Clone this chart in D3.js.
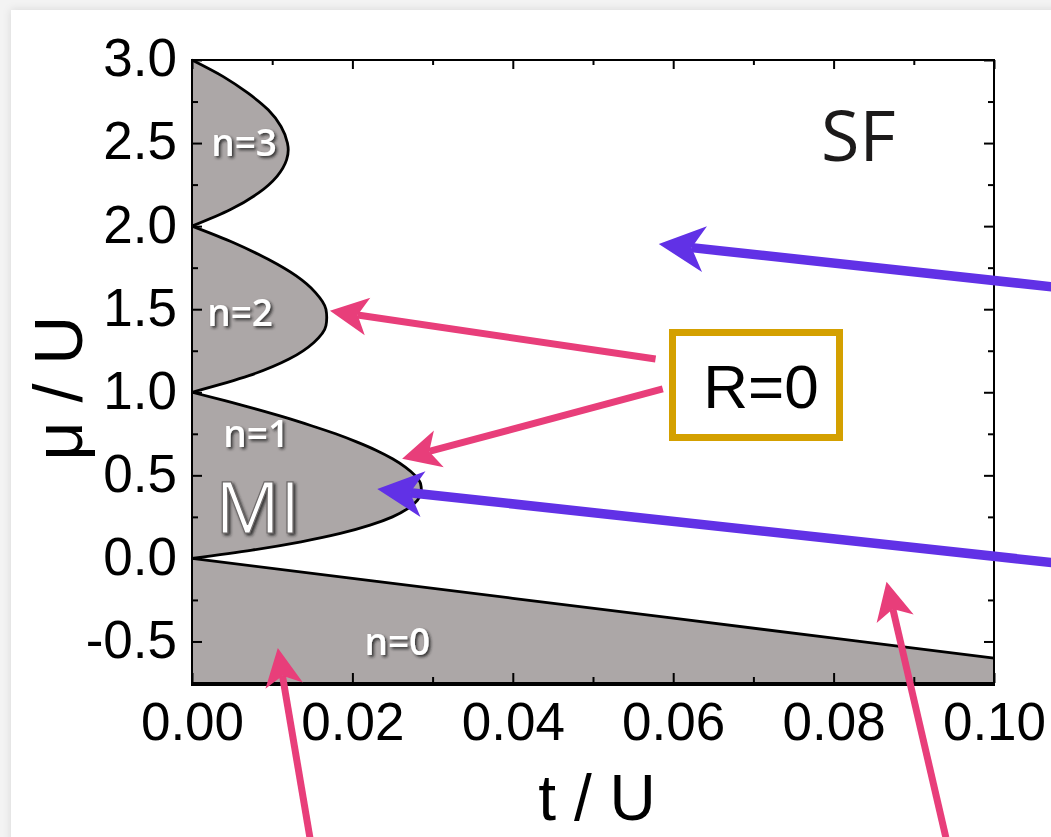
<!DOCTYPE html>
<html>
<head>
<meta charset="utf-8">
<script src="https://cdn.jsdelivr.net/npm/d3@7"></script>
<style>
  html, body { margin: 0; padding: 0; background: #f3f3f3; }
  svg { display: block; }
</style>
</head>
<body>
<div id="chart"></div>
<script>
// Mott lobe boundaries (mu/U vs t/U)
var lobe1Mu = [0, 0.05, 0.1, 0.15, 0.2, 0.25, 0.3, 0.35, 0.41, 0.45, 0.5, 0.55, 0.6, 0.65, 0.7, 0.75, 0.8, 0.85, 0.9, 0.95, 1.0];
var lobe1T  = [0, 0.0075, 0.0136, 0.0185, 0.0222, 0.0250, 0.0269, 0.0281, 0.0286, 0.0285, 0.0278, 0.0266, 0.0250, 0.0230, 0.0206, 0.0179, 0.0148, 0.0115, 0.0079, 0.0041, 0];
var lobe2Mu = [1.0, 1.1, 1.2, 1.3, 1.4, 1.45, 1.5, 1.6, 1.7, 1.8, 1.9, 2.0];
var lobe2T  = [0, 0.0071, 0.0121, 0.0152, 0.0167, 0.0168, 0.0167, 0.0154, 0.0130, 0.0095, 0.0052, 0];
var lobe3Mu = [2.0, 2.1, 2.2, 2.3, 2.4, 2.46, 2.5, 2.6, 2.7, 2.8, 2.9, 3.0];
var lobe3T  = [0, 0.0048, 0.0083, 0.0106, 0.0118, 0.0120, 0.0119, 0.0111, 0.0095, 0.0070, 0.0039, 0];

// n=0 (vacuum) boundary
var zeroT  = [0, 0.02, 0.04, 0.06, 0.08, 0.10];
var zeroMu = [0, -0.12, -0.24, -0.36, -0.48, -0.60];

// Axes
var xTicks = [0, 0.02, 0.04, 0.06, 0.08, 0.10];
var xTickLabels = ["0.00", "0.02", "0.04", "0.06", "0.08", "0.10"];
var xMinor = [0.01, 0.03, 0.05, 0.07, 0.09];
var yTicks = [-0.5, 0, 0.5, 1.0, 1.5, 2.0, 2.5, 3.0];
var yTickLabels = ["-0.5", "0.0", "0.5", "1.0", "1.5", "2.0", "2.5", "3.0"];
var yMinor = [-0.75, -0.25, 0.25, 0.75, 1.25, 1.75, 2.25, 2.75];

// Region labels [t, mu, text]
var lobeLabels = [
    [0.0065, 2.5, "n=3"],
    [0.006, 1.48, "n=2"],
    [0.008, 0.75, "n=1"],
    [0.0256, -0.5, "n=0"]
];

// Arrows in data units: [t0, mu0, t1 (tip), mu1 (tip)]
var pinkArrows = [
    [0.0578, 1.20, 0.0172, 1.49],
    [0.0587, 1.02, 0.0262, 0.60],
    [0.0147, -1.68, 0.0107, -0.54],
    [0.0940, -1.68, 0.0866, -0.14]
];
var blueArrows = [
    [0.1072, 1.635, 0.0582, 1.892],
    [0.1072, -0.025, 0.0231, 0.417]
];

function init() {
    var W = 1051, H = 837;
    var left = 192, right = 994, top = 60, bottom = 683;

    var svg = d3.select("#chart").append("svg")
        .attr("width", W)
        .attr("height", H);

    var defs = svg.append("defs");
    var sh = defs.append("filter").attr("id", "shadow")
        .attr("x", "-20%").attr("y", "-20%").attr("width", "140%").attr("height", "140%");
    sh.append("feDropShadow")
        .attr("dx", 2).attr("dy", 2).attr("stdDeviation", 1.6)
        .attr("flood-color", "#222").attr("flood-opacity", 0.85);
    var card = defs.append("filter").attr("id", "card")
        .attr("x", "-5%").attr("y", "-5%").attr("width", "110%").attr("height", "110%");
    card.append("feDropShadow")
        .attr("dx", 0).attr("dy", 0).attr("stdDeviation", 4)
        .attr("flood-color", "#000").attr("flood-opacity", 0.12);

    // white card on light grey page
    svg.append("rect")
        .attr("x", 11).attr("y", 10)
        .attr("width", W + 20).attr("height", H + 20)
        .attr("fill", "#fff")
        .attr("filter", "url(#card)");

    var x = d3.scaleLinear().domain([0, 0.10]).range([left, right]);
    var y = d3.scaleLinear().domain([-0.75, 3.0]).range([bottom, top]);

    var fillGrey = "#aca7a7";

    // n=0 region
    var zeroPts = zeroT.map(function(t, i) { return [t, zeroMu[i]]; });
    var zeroArea = zeroPts.concat([[0.10, -0.75], [0, -0.75]]);
    svg.append("path")
        .attr("d", d3.line().x(function(d) { return x(d[0]); }).y(function(d) { return y(d[1]); })(zeroArea) + "Z")
        .attr("fill", fillGrey);
    svg.append("path")
        .attr("d", d3.line().x(function(d) { return x(d[0]); }).y(function(d) { return y(d[1]); })(zeroPts))
        .attr("fill", "none")
        .attr("stroke", "#000")
        .attr("stroke-width", 2.8);

    // Mott lobes
    var lobeLine = d3.line()
        .x(function(d) { return x(d[0]); })
        .y(function(d) { return y(d[1]); })
        .curve(d3.curveMonotoneY);

    [[lobe1T, lobe1Mu], [lobe2T, lobe2Mu], [lobe3T, lobe3Mu]].forEach(function(l) {
        var pts = l[0].map(function(t, i) { return [t, l[1][i]]; });
        svg.append("path")
            .attr("d", lobeLine(pts) + "Z")
            .attr("fill", fillGrey)
            .attr("stroke", "none");
        svg.append("path")
            .attr("d", lobeLine(pts))
            .attr("fill", "none")
            .attr("stroke", "#000")
            .attr("stroke-width", 2.8);
    });

    // Axes with inward ticks
    var xAxis = d3.axisBottom(x)
        .tickValues(xTicks)
        .tickSize(-10)
        .tickPadding(19)
        .tickFormat(function(d, i) { return xTickLabels[i]; });
    var gx = svg.append("g")
        .attr("transform", "translate(0," + bottom + ")")
        .call(xAxis);

    var yAxis = d3.axisLeft(y)
        .tickValues(yTicks)
        .tickSize(-10)
        .tickPadding(15)
        .tickFormat(function(d, i) { return yTickLabels[i]; });
    var gy = svg.append("g")
        .attr("transform", "translate(" + left + ",0)")
        .call(yAxis);

    [gx, gy].forEach(function(g) {
        g.select(".domain").remove();
        g.selectAll("line").attr("stroke", "#000").attr("stroke-width", 2);
        g.selectAll("text")
            .attr("fill", "#000")
            .style("font-family", "'Liberation Sans', Arial, sans-serif")
            .style("font-size", "53px");
    });
    gy.selectAll("text").attr("dy", "0.3em");

    // minor ticks and mirrored ticks on top / right
    svg.append("g").attr("transform", "translate(0," + bottom + ")")
        .call(d3.axisBottom(x).tickValues(xMinor).tickSize(-6).tickFormat(""));
    svg.append("g").attr("transform", "translate(0," + top + ")")
        .call(d3.axisTop(x).tickValues(xMinor).tickSize(-5).tickFormat(""));
    svg.append("g").attr("transform", "translate(0," + top + ")")
        .call(d3.axisTop(x).tickValues(xTicks).tickSize(-9).tickFormat(""));
    svg.append("g").attr("transform", "translate(" + left + ",0)")
        .call(d3.axisLeft(y).tickValues(yMinor).tickSize(-6).tickFormat(""));
    svg.append("g").attr("transform", "translate(" + right + ",0)")
        .call(d3.axisRight(y).tickValues(yMinor).tickSize(-6).tickFormat(""));
    svg.append("g").attr("transform", "translate(" + right + ",0)")
        .call(d3.axisRight(y).tickValues(yTicks).tickSize(-10).tickFormat(""));
    svg.selectAll("g .domain").remove();
    svg.selectAll("g.tick line").attr("stroke", "#000").attr("stroke-width", 2);

    // frame
    svg.append("path")
        .attr("d", "M" + left + "," + bottom + "V" + top + "H" + right + "V" + bottom)
        .attr("fill", "none").attr("stroke", "#000").attr("stroke-width", 2);
    svg.append("line")
        .attr("x1", left - 1).attr("x2", right + 1)
        .attr("y1", bottom + 1).attr("y2", bottom + 1)
        .attr("stroke", "#000").attr("stroke-width", 4);

    // axis titles
    svg.append("text")
        .attr("x", 597).attr("y", 820)
        .attr("text-anchor", "middle")
        .style("font-family", "'Liberation Sans', Arial, sans-serif")
        .style("font-size", "64px")
        .text("t / U");
    svg.append("text")
        .attr("transform", "translate(82,388) rotate(-90)")
        .attr("text-anchor", "middle")
        .style("font-family", "'Liberation Sans', Arial, sans-serif")
        .style("font-size", "68px")
        .text("\u03bc / U");

    // lobe labels
    svg.selectAll(".lobe-label")
        .data(lobeLabels)
        .enter()
        .append("text")
        .attr("class", "lobe-label")
        .attr("x", function(d) { return x(d[0]); })
        .attr("y", function(d) { return y(d[1]); })
        .attr("dy", "0.36em")
        .attr("text-anchor", "middle")
        .attr("fill", "#fff")
        .attr("filter", "url(#shadow)")
        .style("font-family", "'Open Sans', 'Noto Sans', sans-serif")
        .style("font-weight", "600")
        .style("font-size", "37px")
        .text(function(d) { return d[2]; });

    svg.append("text")
        .attr("x", x(0.0082)).attr("y", y(0.155))
        .attr("text-anchor", "middle")
        .attr("fill", "#fff")
        .attr("stroke", "#6e6a6a")
        .attr("stroke-width", 1.2)
        .attr("filter", "url(#shadow)")
        .style("font-family", "'Open Sans', 'Noto Sans', sans-serif")
        .style("font-weight", "400")
        .style("font-size", "72px")
        .text("MI");

    svg.append("text")
        .attr("x", 821).attr("y", 161)
        .attr("fill", "#1c1a1a")
        .style("font-family", "'Open Sans', 'Noto Sans', sans-serif")
        .style("font-size", "70px")
        .text("SF");

    // R=0 box
    svg.append("rect")
        .attr("x", 672.5).attr("y", 332.5)
        .attr("width", 167).attr("height", 105)
        .attr("fill", "#fff")
        .attr("stroke", "#d4a000")
        .attr("stroke-width", 7);
    svg.append("text")
        .attr("x", 761).attr("y", 408)
        .attr("text-anchor", "middle")
        .attr("fill", "#000")
        .style("font-family", "'Liberation Sans', Arial, sans-serif")
        .style("font-size", "62px")
        .text("R=0");

    // arrows
    function arrow(a, color, lw, L, Wd, N) {
        var x0 = x(a[0]), y0 = y(a[1]), x1 = x(a[2]), y1 = y(a[3]);
        var dx = x1 - x0, dy = y1 - y0, len = Math.sqrt(dx * dx + dy * dy);
        var ux = dx / len, uy = dy / len, nx = -uy, ny = ux;
        svg.append("line")
            .attr("x1", x0).attr("y1", y0)
            .attr("x2", x1 - ux * N).attr("y2", y1 - uy * N)
            .attr("stroke", color).attr("stroke-width", lw);
        var head = [
            [x1, y1],
            [x1 - ux * L + nx * Wd, y1 - uy * L + ny * Wd],
            [x1 - ux * N, y1 - uy * N],
            [x1 - ux * L - nx * Wd, y1 - uy * L - ny * Wd]
        ];
        svg.append("path")
            .attr("d", "M" + head.map(function(p) { return p[0] + "," + p[1]; }).join("L") + "Z")
            .attr("fill", color);
    }
    pinkArrows.forEach(function(a) { arrow(a, "#e83e7a", 7, 38, 19, 28); });
    blueArrows.forEach(function(a) { arrow(a, "#6131e6", 9.5, 46, 23, 33); });
}

window.onload = init;
</script>
</body>
</html>
